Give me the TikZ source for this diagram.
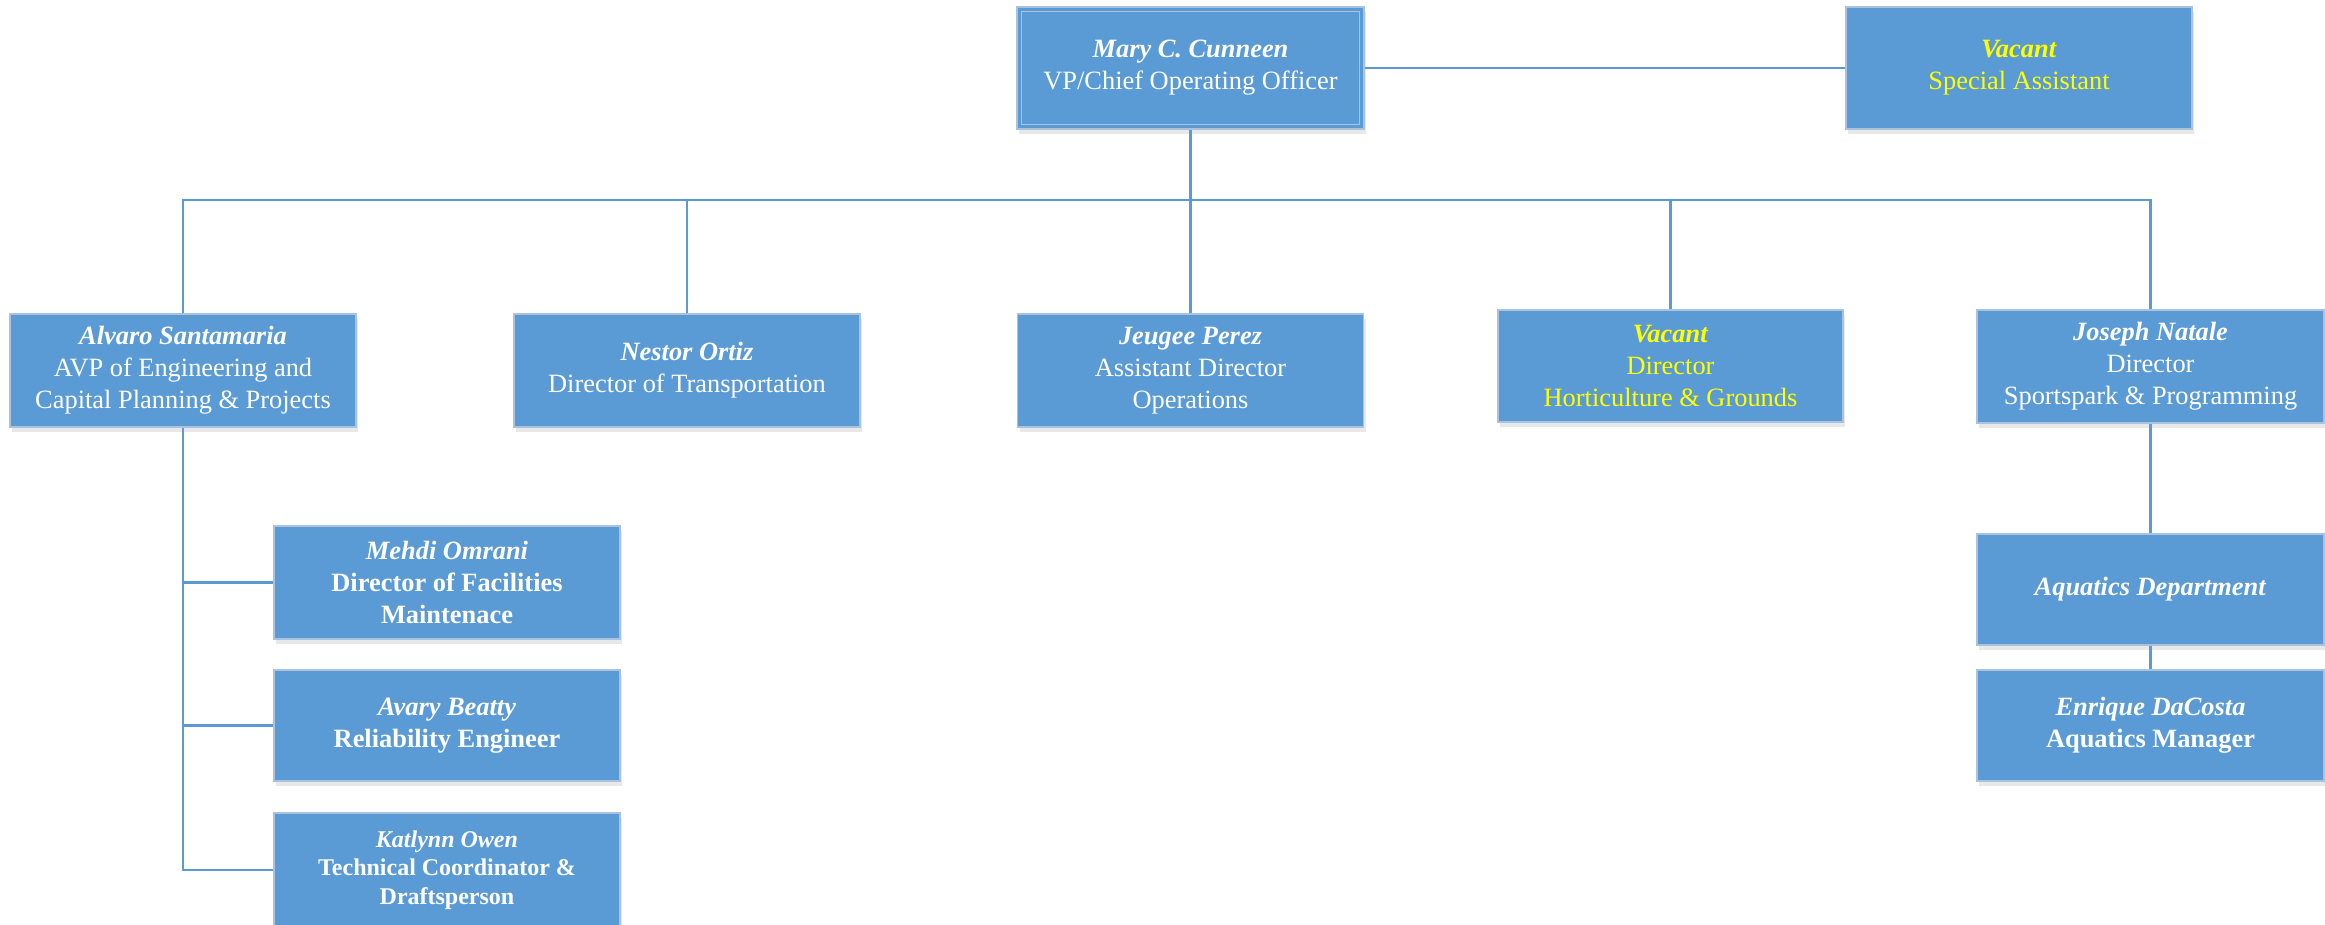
\documentclass[tikz,border=0pt]{standalone}
\usepackage{fontspec}
\setmainfont{Liberation Serif}
\usetikzlibrary{shadows}
\definecolor{boxblue}{HTML}{5B9BD5}
\definecolor{boxedge}{HTML}{A9C2DE}
\definecolor{vacyellow}{HTML}{FFFF00}
\tikzset{
  orgbox/.style={draw=boxedge, line width=1.5pt, fill=boxblue, text=white,
    inner sep=0pt, align=center, minimum width=346pt, minimum height=113pt,
    font=\fontsize{26.4}{32}\selectfont,
    drop shadow={opacity=0.18, shadow xshift=2pt, shadow yshift=-5pt}},
  vacbox/.style={orgbox, text=vacyellow},
  smallbox/.style={orgbox, font=\fontsize{24}{28.5}\selectfont},
  conn/.style={draw=boxblue, line width=2.6pt},
  innerline/.style={draw=boxedge, line width=1.2pt}
}
\newcommand{\nm}[1]{\textbf{\textit{#1}}}
\begin{document}
\begin{tikzpicture}[x=1pt,y=-1pt]
\useasboundingbox (0,0) rectangle (2325,925);
% top row
\node[orgbox, minimum width=347pt, minimum height=122pt] (mary) at (1190.5,68)
  {\nm{Mary C. Cunneen}\\VP/Chief Operating Officer};
\draw[innerline] ([shift={(5,5)}]mary.north west) rectangle ([shift={(-5,-5)}]mary.south east);
\node[vacbox, minimum height=122pt] (sa) at (2019,68)
  {\nm{Vacant}\\Special Assistant};
% second row
\node[orgbox] (alvaro) at (183,370.5)
  {\nm{Alvaro Santamaria}\\AVP of Engineering and\\Capital Planning \& Projects};
\node[orgbox] (nestor) at (687,370.5)
  {\nm{Nestor Ortiz}\\Director of Transportation};
\node[orgbox] (jeugee) at (1190.5,370.5)
  {\nm{Jeugee Perez}\\Assistant Director\\Operations};
\node[vacbox, minimum width=345pt, minimum height=112pt] (vacant) at (1670.5,366)
  {\nm{Vacant}\\Director\\Horticulture \& Grounds};
\node[orgbox, minimum width=347pt] (joseph) at (2150.5,366.5)
  {\nm{Joseph Natale}\\Director\\Sportspark \& Programming};
% Alvaro's reports
\node[orgbox] (mehdi) at (447,582.5)
  {\nm{Mehdi Omrani}\\\textbf{Director of Facilities}\\\textbf{Maintenace}};
\node[orgbox, minimum height=111pt] (avary) at (447,725.5)
  {\nm{Avary Beatty}\\\textbf{Reliability Engineer}};
\node[smallbox, minimum height=114pt] (katlynn) at (447,870)
  {\nm{Katlynn Owen}\\\textbf{Technical Coordinator \&}\\\textbf{Draftsperson}};
% Aquatics
\node[orgbox, minimum width=347pt, minimum height=111pt] (aquatics) at (2150.5,589.5)
  {\nm{Aquatics Department}};
\node[orgbox, minimum width=347pt, minimum height=111pt] (enrique) at (2150.5,725.5)
  {\nm{Enrique DaCosta}\\\textbf{Aquatics Manager}};
% connectors
\coordinate (bus) at (1190.5,200);
\begin{scope}[on background layer/.style={}]
\draw[conn] (mary.east) -- (sa.west);
\draw[conn] (mary.south) -- (bus);
\draw[conn] (alvaro.north) -- (alvaro.north |- bus) -- (joseph.north |- bus) -- (joseph.north);
\draw[conn] (nestor.north) -- (nestor.north |- bus);
\draw[conn] (jeugee.north) -- (jeugee.north |- bus);
\draw[conn] (vacant.north) -- (vacant.north |- bus);
\draw[conn] (alvaro.south) |- (katlynn.west);
\draw[conn] (alvaro.south |- mehdi.west) -- (mehdi.west);
\draw[conn] (alvaro.south |- avary.west) -- (avary.west);
\draw[conn] (joseph.south) -- (aquatics.north);
\draw[conn] (aquatics.south) -- (enrique.north);
\end{scope}
\end{tikzpicture}
\end{document}
